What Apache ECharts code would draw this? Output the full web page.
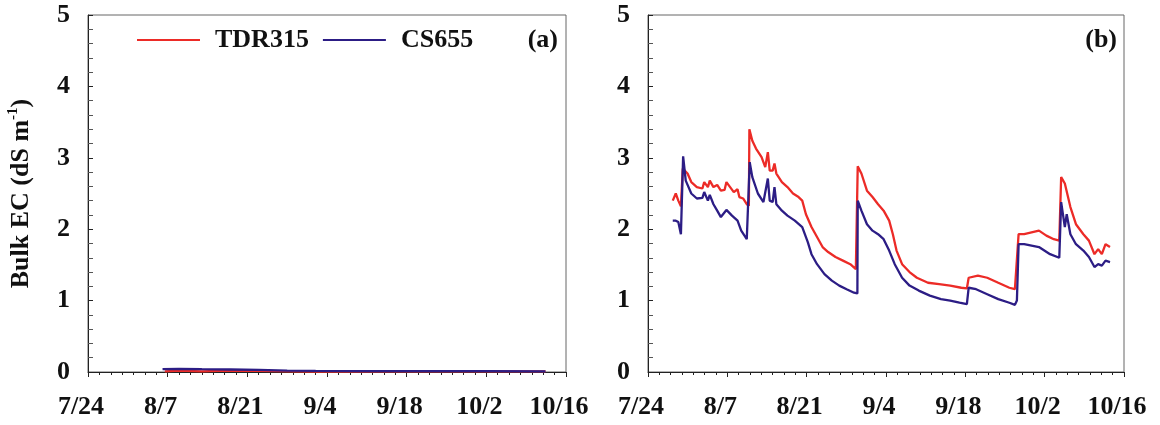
<!DOCTYPE html>
<html>
<head>
<meta charset="utf-8">
<script src="https://cdn.jsdelivr.net/npm/echarts@6/dist/echarts.min.js"></script>
<style>html,body{margin:0;padding:0;background:#fff;}#c{width:1160px;height:425px;}</style>
</head>
<body>
<div id="c"></div>
<script>
// x values are days after 7/24
var xTickLabels = ['7/24', '8/7', '8/21', '9/4', '9/18', '10/2', '10/16'];
var yTicks = [0, 1, 2, 3, 4, 5];
var seriesNames = ['TDR315', 'CS655'];
var panelLabels = ['(a)', '(b)'];

var tdrA = [[13.5,0.01],[16,0.02],[20,0.01],[24,0.02],[30,0.015],[36,0.01],[40,0.005],[60,0.008],[80.4,0.008]];
var csA = [[13.1,0.04],[16,0.045],[20,0.04],[25,0.035],[30,0.03],[35,0.02],[40,0.015],[50,0.012],[60,0.012],[70,0.012],[80.4,0.01]];

var tdrB = [[4.37,2.40],[4.90,2.50],[5.35,2.40],[5.81,2.32],[6.10,2.34],[6.14,2.85],[6.98,2.78],[7.64,2.66],[8.62,2.59],[9.60,2.57],[9.92,2.66],[10.57,2.59],[10.90,2.68],[11.55,2.59],[12.21,2.62],[12.86,2.54],[13.51,2.55],[13.84,2.66],[14.49,2.59],[15.14,2.52],[15.80,2.56],[16.12,2.45],[16.78,2.43],[17.43,2.35],[17.80,2.33],[17.89,3.40],[18.41,3.24],[19.06,3.13],[20.04,3.01],[20.69,2.87],[21.15,3.08],[21.48,2.82],[22.00,2.82],[22.32,2.92],[22.65,2.78],[23.63,2.66],[24.61,2.59],[25.59,2.50],[26.57,2.45],[27.22,2.40],[27.87,2.21],[28.85,2.03],[29.83,1.89],[30.81,1.75],[31.79,1.68],[33.09,1.61],[34.40,1.56],[35.70,1.51],[36.68,1.44],[36.95,1.42],[37.01,2.88],[37.66,2.78],[38.64,2.54],[39.62,2.45],[40.60,2.35],[41.58,2.26],[42.56,2.12],[43.21,1.93],[43.86,1.70],[44.84,1.51],[46.15,1.40],[47.45,1.32],[49.41,1.25],[51.37,1.23],[53.33,1.21],[55.29,1.18],[56.27,1.17],[56.59,1.32],[58.22,1.35],[59.86,1.32],[61.81,1.25],[63.77,1.18],[64.75,1.16],[65.10,1.18],[65.40,1.93],[66.38,1.93],[68.99,1.98],[70.30,1.91],[71.61,1.86],[72.58,1.84],[72.85,1.84],[72.91,2.73],[73.56,2.64],[73.89,2.66],[74.54,2.31],[75.52,2.07],[76.83,1.93],[77.81,1.84],[78.79,1.65],[79.44,1.72],[80.09,1.65],[80.74,1.79],[81.53,1.75]];

var csB = [[4.37,2.12],[4.90,2.12],[5.35,2.10],[5.81,1.93],[6.10,1.91],[6.20,3.02],[6.66,2.68],[7.64,2.50],[8.62,2.43],[9.60,2.44],[9.92,2.52],[10.57,2.40],[10.90,2.48],[11.55,2.35],[12.21,2.26],[12.86,2.17],[13.84,2.27],[14.82,2.19],[15.80,2.12],[16.45,1.98],[17.43,1.86],[17.75,1.84],[17.95,2.94],[18.41,2.73],[19.39,2.50],[20.37,2.38],[20.69,2.38],[21.15,2.71],[21.48,2.40],[22.00,2.38],[22.32,2.59],[22.65,2.35],[23.63,2.26],[24.61,2.19],[25.91,2.12],[27.22,2.03],[28.20,1.82],[28.85,1.65],[29.83,1.51],[31.14,1.37],[32.44,1.28],[33.75,1.21],[35.05,1.16],[36.36,1.11],[36.68,1.09],[36.95,1.10],[37.01,2.40],[37.66,2.26],[38.64,2.07],[39.62,1.98],[40.60,1.93],[41.58,1.86],[42.56,1.70],[43.54,1.51],[44.84,1.32],[46.15,1.21],[47.78,1.14],[49.74,1.07],[51.70,1.02],[53.33,1.00],[54.96,0.97],[56.27,0.95],[56.59,1.18],[57.90,1.16],[59.86,1.09],[61.81,1.02],[63.77,0.97],[64.75,0.94],[65.10,1.00],[65.40,1.79],[66.38,1.79],[68.99,1.75],[70.95,1.65],[72.58,1.60],[72.85,1.60],[72.91,2.38],[73.56,2.03],[73.89,2.21],[74.54,1.93],[75.52,1.79],[76.83,1.70],[77.81,1.61],[78.79,1.47],[79.44,1.51],[80.09,1.49],[80.74,1.56],[81.53,1.54]];

var RED = '#ec2b27';
var BLUE = '#2c1d85';
var FONT = '"Liberation Serif", "DejaVu Serif", serif';

function xAxisCfg(gi) {
  return {
    type: 'value', gridIndex: gi, min: 0, max: 84, interval: 14,
    axisLine: { show: true, lineStyle: { color: '#222', width: 1 } },
    axisTick: { show: true, inside: false, length: 5, lineStyle: { color: '#222' } },
    minorTick: { show: true, splitNumber: 7, length: 3, lineStyle: { color: '#222' } },
    splitLine: { show: false },
    axisLabel: {
      showMinLabel: true, showMaxLabel: true, margin: 22,
      fontFamily: FONT, fontWeight: 'bold', fontSize: 26, color: '#111',
      padding: [0, 14, 0, 0],
      formatter: function (v) { return xTickLabels[Math.round(v / 14)]; }
    }
  };
}
function yAxisCfg(gi, withName) {
  var c = {
    type: 'value', gridIndex: gi, min: yTicks[0], max: yTicks[yTicks.length - 1], interval: 1,
    axisLine: { show: true, lineStyle: { color: '#222', width: 1 } },
    axisTick: { show: true, inside: true, length: 5, lineStyle: { color: '#222' } },
    minorTick: { show: true, splitNumber: 5, length: 5, lineStyle: { color: '#555' } },
    splitLine: { show: false },
    axisLabel: { margin: 18, fontFamily: FONT, fontWeight: 'bold', fontSize: 26, color: '#111' }
  };
  if (withName) {
    c.name = '{m|Bulk EC (dS m}{s|-1}{m|)}';
    c.nameLocation = 'middle';
    c.nameGap = 52;
    c.nameRotate = 90;
    c.nameTextStyle = {
      fontFamily: FONT, fontWeight: 'bold', fontSize: 26, color: '#111',
      rich: {
        m: { fontFamily: FONT, fontWeight: 'bold', fontSize: 26, color: '#111', lineHeight: 30 },
        s: { fontFamily: FONT, fontWeight: 'bold', fontSize: 15, color: '#111', lineHeight: 30, verticalAlign: 'top', padding: [0, 0, 12, 0] }
      }
    };
  }
  return c;
}
function lineSeries(name, data, color, xi, yi) {
  return {
    name: name, type: 'line', data: data, xAxisIndex: xi, yAxisIndex: yi,
    showSymbol: false, symbol: 'none', smooth: false,
    lineStyle: { color: color, width: 2.3 }, itemStyle: { color: color },
    animation: false
  };
}

var chart = echarts.init(document.getElementById('c'), null, { renderer: 'canvas' });
chart.setOption({
  backgroundColor: '#fff',
  animation: false,
  grid: [
    { left: 88, top: 15, width: 478, height: 357, show: true, borderColor: '#666', borderWidth: 1, containLabel: false },
    { left: 648, top: 15, width: 476, height: 357, show: true, borderColor: '#666', borderWidth: 1, containLabel: false }
  ],
  title: [
    { text: panelLabels[0], right: 602, top: 27, textStyle: { fontFamily: FONT, fontWeight: 'bold', fontSize: 26, color: '#111' }, padding: 0 },
    { text: panelLabels[1], right: 43, top: 27, textStyle: { fontFamily: FONT, fontWeight: 'bold', fontSize: 26, color: '#111' }, padding: 0 }
  ],
  legend: {
    data: seriesNames, left: 137, top: 27, padding: 0,
    icon: 'rect', itemWidth: 63, itemHeight: 2, itemGap: 14,
    textStyle: { fontFamily: FONT, fontWeight: 'bold', fontSize: 26, color: '#111', padding: [0, 0, 0, 10] }
  },
  xAxis: [xAxisCfg(0), xAxisCfg(1)],
  yAxis: [yAxisCfg(0, true), yAxisCfg(1, false)],
  series: [
    lineSeries(seriesNames[0], tdrA, RED, 0, 0),
    lineSeries(seriesNames[1], csA, BLUE, 0, 0),
    lineSeries(seriesNames[0], tdrB, RED, 1, 1),
    lineSeries(seriesNames[1], csB, BLUE, 1, 1)
  ]
});
</script>
</body>
</html>
